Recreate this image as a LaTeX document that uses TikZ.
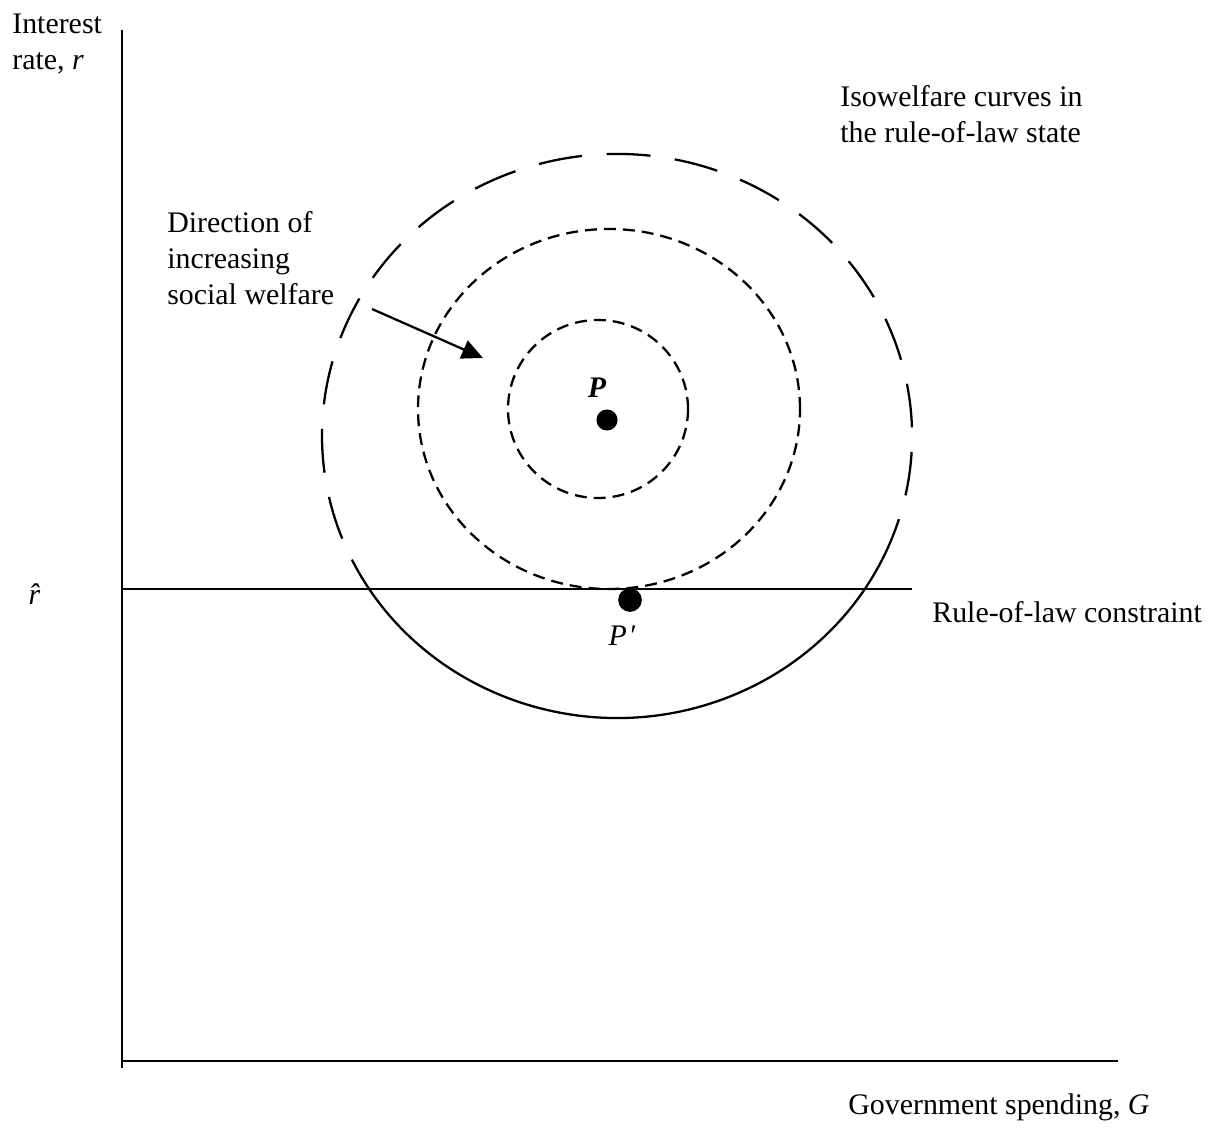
\documentclass[tikz,border=0pt]{standalone}
\usepackage{fontspec}
\setmainfont{Liberation Serif}
\usepackage{tikz}
\usetikzlibrary{arrows.meta, positioning}

\begin{document}
\begin{tikzpicture}[
    x=0.02cm, y=0.02cm,
    every node/.style={font=\fontsize{17}{20.5}\selectfont, inner sep=0},
    axis/.style={line width=1.6pt},
    iso/.style={line width=1.3pt, dash pattern=on 6.8pt off 4pt},
    isowide/.style={line width=1.3pt, dash pattern=on 25pt off 14pt},
    dot/.style={circle, fill=black, minimum size=#1, inner sep=0},
    dot/.default=12pt
]
\useasboundingbox (0,0) rectangle (1212,1130);

% Axes
\coordinate (origin) at (122,69);
\coordinate (ytop) at (122,1100);
\coordinate (ybot) at (122,62);
\coordinate (xend) at (1118,69);
\draw[axis] (ytop) -- (ybot);
\draw[axis] (origin) -- (xend);

\node[anchor=west, align=left] (ylabel) at (12,1086) {Interest\\rate, \textit{r}};
\node[anchor=west] (xlabel) at (848,23) {Government spending, \textit{G}};

% Rule-of-law constraint
\coordinate (rhat) at (122,541);
\coordinate (rend) at (912,541);
\draw[line width=1.3pt] (rhat) -- (rend);
\node (rhatlabel) at (40,536) {\textit{\^{r}}};
\node[anchor=west] (constraint) at (932,518) {Rule-of-law constraint};

% Isowelfare curves
\coordinate (outerc) at (617,694);
\coordinate (midc) at (609,721);
\coordinate (innerc) at (598,721);
\draw[isowide] (outerc) ++(-26:295 and 282)
    arc[start angle=-26, end angle=206, x radius=295, y radius=282];
\draw[line width=1.3pt] (outerc) ++(206:295 and 282)
    arc[start angle=206, end angle=334, x radius=295, y radius=282];
\draw[iso] (midc) ellipse[x radius=191, y radius=180];
\draw[iso] (innerc) ellipse[x radius=90, y radius=89];

\node[align=left, anchor=west] (isolabel) at (840,1016) {Isowelfare curves in\\the rule-of-law state};

% Optima
\node[dot=12pt] (P) at (607,710) {};
\node[font=\fontsize{17}{20}\selectfont\bfseries\itshape] (Plabel) at (597,742) {P};
\node[dot=13.5pt] (Pprime) at (630,530) {};
\node (Pprimelabel) at (622,494) {\textit{P\kern1pt′}};

% Direction of increasing welfare
\node[align=left, anchor=west] (dirlabel) at (167,872) {Direction of\\increasing\\social welfare};
\coordinate (dirstart) at (372,821);
\coordinate (dirtip) at (483,772);
\draw[line width=1.3pt, -{Triangle[length=12pt, width=11pt]}] (dirstart) -- (dirtip);

\end{tikzpicture}
\end{document}
